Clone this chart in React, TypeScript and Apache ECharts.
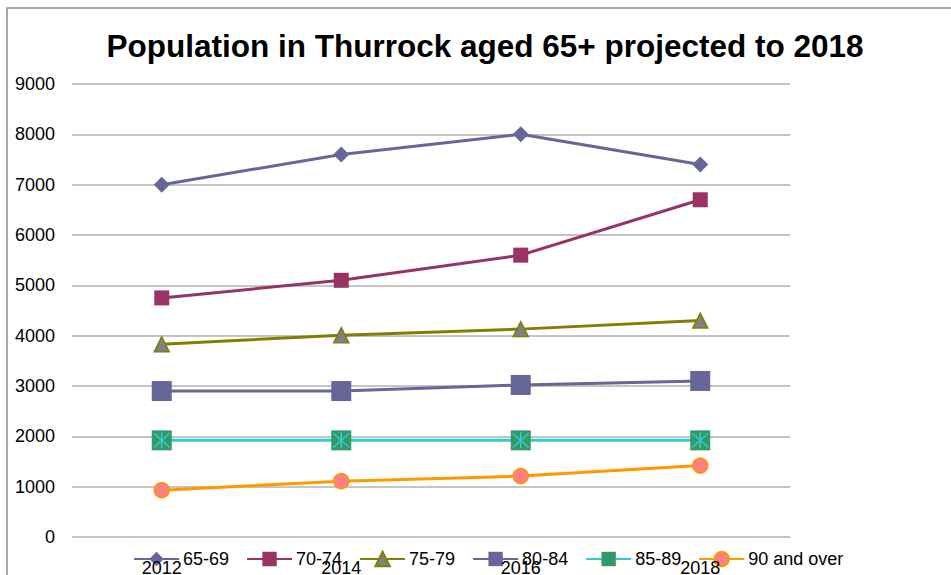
import React, { useEffect, useRef } from "react";
import * as echarts from "echarts";

const years = ["2012", "2014", "2016", "2018"];
const s6569 = [7000, 7600, 8000, 7400];
const s7074 = [4750, 5100, 5600, 6700];
const s7579 = [3830, 4010, 4130, 4300];
const s8084 = [2900, 2900, 3020, 3100];
const s8589 = [1920, 1920, 1920, 1920];
const s90 = [930, 1110, 1210, 1420];
const seriesNames = ["65-69", "70-74", "75-79", "80-84", "85-89", "90 and over"];

const FONT = "'Liberation Sans', Arial, sans-serif";

export default function App() {
  const ref = useRef<HTMLDivElement>(null);
  useEffect(() => {
    if (!ref.current) return;
    const chart = echarts.init(ref.current, null, { renderer: "svg" });
    const lw = 3;
    chart.setOption({
      animation: false,
      backgroundColor: "#ffffff",
      title: {
        text: "Population in Thurrock aged 65+ projected to 2018",
        left: 480,
        top: 25,
        textAlign: "center",
        textStyle: { fontFamily: FONT, fontWeight: "bold", fontSize: 31.5, color: "#000" },
      },
      graphic: [
        {
          type: "rect",
          shape: { x: 7, y: 8, width: 980, height: 620 },
          style: { fill: "none", stroke: "#8c8c8c", lineWidth: 1.5 },
          silent: true,
        },
      ],
      legend: {
        data: seriesNames,
        left: 128,
        top: 545,
        itemWidth: 45,
        itemHeight: 18,
        itemGap: 17,
        textStyle: { fontFamily: FONT, fontSize: 18, color: "#000", padding: [0, 0, 0, -1] },
      },
      grid: { left: 72, right: 161, top: 84, bottom: 38, outerBoundsMode: "none" },
      xAxis: {
        type: "category",
        data: years,
        boundaryGap: true,
        axisLine: { show: false },
        axisTick: { show: false },
        axisLabel: { fontFamily: FONT, fontSize: 18, color: "#000", margin: 22 },
        z: 10,
      },
      yAxis: {
        type: "value",
        min: 0,
        max: 9000,
        interval: 1000,
        axisLine: { show: false },
        axisTick: { show: false },
        axisLabel: {
          fontFamily: FONT,
          fontSize: 18,
          color: "#000",
          margin: 17,
          formatter: (v: number) => String(v),
        },
        splitLine: { lineStyle: { color: "#b0b0b0", width: 1.5 } },
      },
      series: [
        {
          name: "65-69",
          type: "line",
          data: s6569,
          symbol: "diamond",
          symbolSize: 16,
          lineStyle: { color: "#666699", width: lw },
          itemStyle: { color: "#666699" },
        },
        {
          name: "70-74",
          type: "line",
          data: s7074,
          symbol: "rect",
          symbolSize: 15,
          lineStyle: { color: "#993366", width: lw },
          itemStyle: { color: "#993366" },
        },
        {
          name: "75-79",
          type: "line",
          data: s7579,
          symbol: "triangle",
          symbolSize: 15,
          lineStyle: { color: "#808000", width: lw },
          itemStyle: { color: "#808080", borderColor: "#808000", borderWidth: 1.5 },
        },
        {
          name: "80-84",
          type: "line",
          data: s8084,
          symbol: "rect",
          symbolSize: 20,
          lineStyle: { color: "#666699", width: lw },
          itemStyle: { color: "#666699" },
        },
        {
          name: "85-89",
          type: "line",
          data: s8589,
          symbol: "rect",
          symbolSize: 20,
          lineStyle: { color: "#33cccc", width: lw },
          itemStyle: { color: "#339966" },
        },
        {
          name: "85-89 star",
          type: "line",
          data: s8589,
          symbol: "path://M0,-9 L0,9 M-8,-8 L8,8 M-8,8 L8,-8",
          symbolSize: 16,
          lineStyle: { opacity: 0, width: 0 },
          itemStyle: { color: "none", borderColor: "#33cccc", borderWidth: 1.5 },
          silent: true,
          z: 5,
        },
        {
          name: "90 and over",
          type: "line",
          data: s90,
          symbol: "circle",
          symbolSize: 15,
          lineStyle: { color: "#ff9900", width: lw },
          itemStyle: { color: "#ff8080", borderColor: "#ff9900", borderWidth: 1.5 },
        },
      ],
    });
    return () => chart.dispose();
  }, []);
  return (
    <div
      ref={ref}
      style={{ position: "fixed", left: 0, top: 0, width: 951, height: 575 }}
    />
  );
}
